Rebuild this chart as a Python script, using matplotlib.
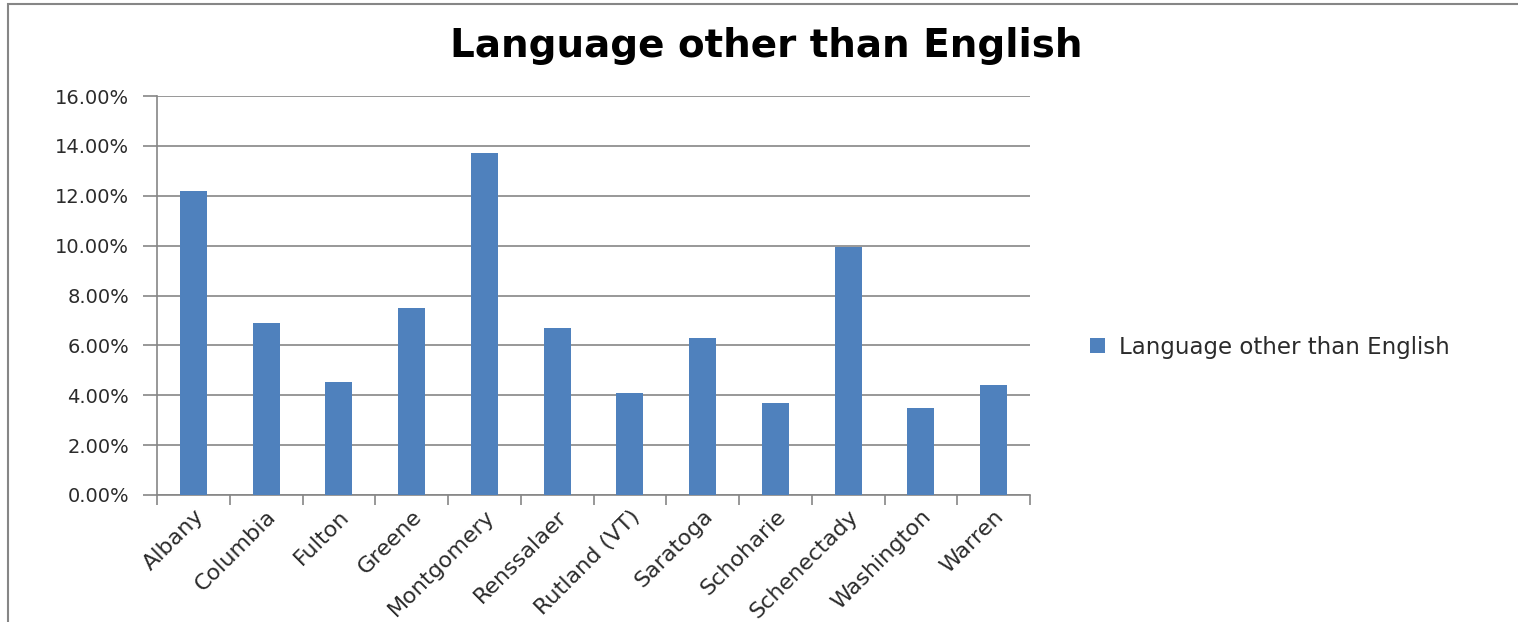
import matplotlib.pyplot as plt
from matplotlib.patches import Rectangle
from matplotlib.ticker import PercentFormatter

counties = ["Albany", "Columbia", "Fulton", "Greene", "Montgomery", "Renssalaer",
            "Rutland (VT)", "Saratoga", "Schoharie", "Schenectady", "Washington", "Warren"]
share = [12.2, 6.9, 4.55, 7.5, 13.7, 6.7, 4.1, 6.3, 3.7, 9.95, 3.5, 4.4]
series_name = "Language other than English"

bar_color = "#4f81bd"
grid_color = "#868686"
text_color = "#2b2b2b"

fig = plt.figure(figsize=(15.18, 6.22), dpi=100)
ax = fig.add_axes([157 / 1518, 1 - 495 / 622, (1030 - 157) / 1518, (495 - 96) / 622])

x = range(len(counties))
ax.bar(x, share, width=0.37, color=bar_color, label=series_name, zorder=3)

ax.set_xlim(-0.5, len(counties) - 0.5)
ax.set_ylim(0, 16)
ax.set_yticks(range(0, 17, 2))
ax.yaxis.set_major_formatter(PercentFormatter(decimals=2))
ax.yaxis.grid(True, color=grid_color, linewidth=1.2, zorder=0)

# boundary ticks between categories, labels at the centres
ax.set_xticks([i - 0.5 for i in range(len(counties) + 1)])
ax.set_xticklabels([])
ax.set_xticks(list(x), minor=True)
ax.set_xticklabels(counties, minor=True, rotation=45, ha="right", rotation_mode="anchor",
                   fontsize=16, color=text_color)
ax.tick_params(axis="x", which="minor", length=0, pad=8)
ax.tick_params(axis="x", which="major", length=7, color=grid_color, width=1.2)
ax.tick_params(axis="y", length=10, color=grid_color, width=1.2, labelsize=14,
               labelcolor=text_color, pad=10)

for side in ["top", "right"]:
    ax.spines[side].set_visible(False)
for side in ["left", "bottom"]:
    ax.spines[side].set_color(grid_color)
    ax.spines[side].set_linewidth(1.2)

fig.text(766 / 1518, 1 - 46 / 622, "Language other than English", ha="center", va="center",
         fontsize=28, fontweight="bold", color="black")

ax.legend(loc="center left", bbox_to_anchor=(1.045, 0.37), frameon=False, fontsize=16.5,
          handlelength=0.65, handleheight=0.65, handletextpad=0.6, labelcolor=text_color)

# outer chart border (right and bottom edges run off the picture)
fig.patches.append(Rectangle((8 / 1518, -0.05), 1.1, 1.05 - 4 / 622,
                             transform=fig.transFigure, fill=False,
                             edgecolor=grid_color, linewidth=1.5))

fig.savefig("out.png", dpi=100)
